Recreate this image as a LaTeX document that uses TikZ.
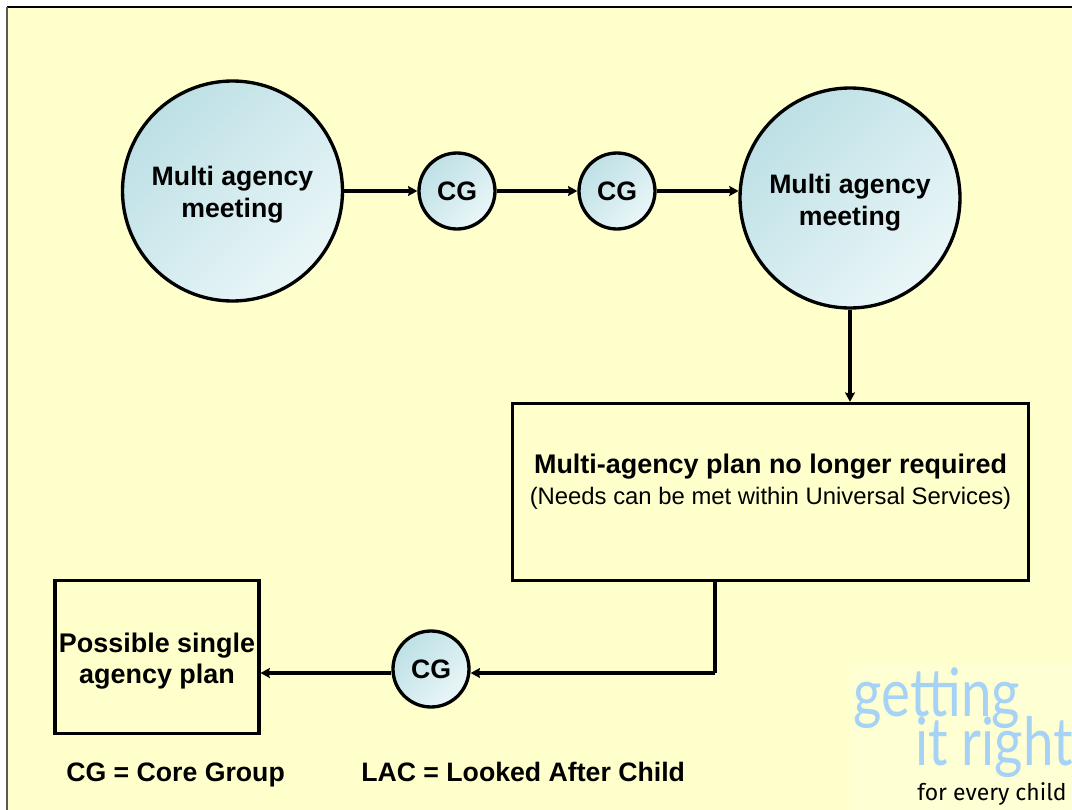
\documentclass[tikz,border=0pt]{standalone}
\usepackage{fontspec}
\setmainfont{Liberation Sans}
\newfontfamily\logofont{Lato}
\newfontfamily\childfont{Fira Sans}
\usetikzlibrary{positioning,arrows.meta}
\definecolor{slidebg}{HTML}{FFFFCC}
\definecolor{logobg}{HTML}{FFFFD4}
\definecolor{logoblue}{HTML}{A6D3F5}
\definecolor{circdark}{HTML}{BDE0E5}
\definecolor{circlight}{HTML}{EAF6F8}
\tikzset{
	blob/.style={
			circle,
			draw=black,
			line width=2.5pt,
			top color=circdark,
			bottom color=circlight,
			shading angle=45,
			inner sep=0pt,
			align=center,
			font=\fontsize{20}{24}\selectfont\bfseries,
		},
	plan/.style={
			rectangle,
			draw=black,
			line width=2.3pt,
			fill=slidebg,
			inner sep=0pt,
			align=center,
			font=\fontsize{20.2}{23.25}\selectfont,
		},
	arrow/.style={line width=2.3pt, -{Stealth[length=7pt,width=7.5pt,inset=1pt]}},
	key/.style={font=\fontsize{20}{24}\selectfont\bfseries, anchor=base west, inner sep=0pt},
	logo/.style={font=\logofont\fontsize{50}{50}\selectfont, text=logoblue, inner sep=0pt, xscale=0.82},
}

\begin{document}
\begin{tikzpicture}[x=0.75pt,y=-0.75pt]
	\useasboundingbox (0,0) rectangle (1072,810);
	\fill[white] (0,0) rectangle (1072,810);
	\fill[slidebg] (7,7) rectangle (1072,810);
	\fill[logobg] (850,664) rectangle (1072,810);
	\coordinate (topleft) at (7,7);
	\coordinate (topright) at (1072,7);
	\coordinate (bottomleft) at (7,810);
	\draw[line width=0.9pt] (topleft) -- (topright);
	\draw[line width=0.9pt, black!65] (topleft) -- (bottomleft);

	% Meetings
	\node[blob, minimum size=165pt] (meetone) at (232.5,191) {Multi agency\\meeting\\[-25pt]};
	\node[blob, minimum size=165pt] (meettwo) at (850,198) {Multi agency\\meeting\\[-27.25pt]};

	% Core groups
	\node[blob, minimum size=57pt] (cgone) at (457,191) {CG};
	\node[blob, minimum size=57pt] (cgtwo) at (617,191) {CG};
	\node[blob, minimum size=57pt] (cgthree) at (431,669) {CG};

	% Plans
	\node[plan, minimum width=387pt, minimum height=133pt] (noplan) at (770.5,492) {
		{\bfseries Multi-agency plan no longer required}\\
		{\fontsize{17.9}{23.25}\selectfont (Needs can be met within Universal Services)}\\[-4.5pt]
	};
	\node[plan, minimum width=153pt, minimum height=115pt] (single) at (157,657) {
		\bfseries Possible single\\
		\bfseries agency plan\\[-24.75pt]
	};

	% Key
	\node[key] (keycg) at (66,781) {CG = Core Group};
	\node[key] (keylac) at (361,781) {LAC = Looked After Child};

	% Logo
	\node[logo] (logoa) at (937,698) {getting};
	\node[logo] (logob) at (994,747) {it right};
	\node[font=\childfont\fontsize{17.2}{18}\selectfont, inner sep=0pt] (logoc) at (992,794) {for every child};

	% Connections
	\coordinate (bend) at (715,673);
	\draw[arrow] (meetone.east) -- (cgone.west);
	\draw[arrow] (cgone.east) -- (cgtwo.west);
	\draw[arrow] (cgtwo.east) -- (cgtwo.east -| meettwo.176);
	\draw[arrow] (meettwo.south) -- (meettwo.south |- noplan.north);
	\draw[line width=2.3pt] (noplan.south -| bend) -- (bend);
	\draw[arrow] (bend) -- (bend -| cgthree.east);
	\draw[arrow] (bend -| cgthree.west) -- (bend -| single.east);
\end{tikzpicture}
\end{document}
